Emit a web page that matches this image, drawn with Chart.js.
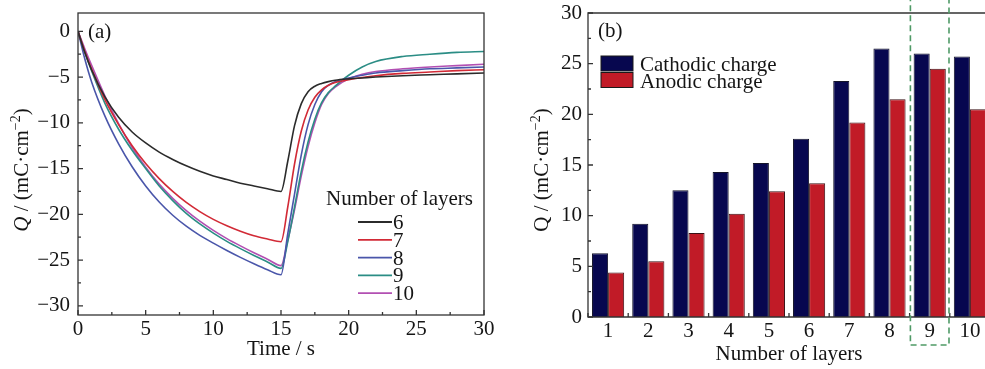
<!DOCTYPE html>
<html>
<head>
<meta charset="utf-8">
<script src="https://cdn.jsdelivr.net/npm/chart.js@4"></script>
<style>
  html, body { margin:0; padding:0; background:#fff; overflow:hidden; width:985px; height:369px; }
  #wa { position:absolute; left:0; top:0; width:495px; height:369px; }
  #wb { position:absolute; left:495px; top:0; width:505px; height:369px; }
</style>
</head>
<body>
<div id="wa"><canvas id="ca" width="495" height="369"></canvas></div>
<div id="wb"><canvas id="cb" width="505" height="369"></canvas></div>
<script>
// ---------- Data: panel (a) ----------
const time = [0,0.5,1,2,3,4,5,6,7,8,9,10,11,12,13,14,15,15.5,16,16.5,17,17.5,18,18.5,19,20,21,22,24,26,28,30];
const layer6  = [0,-2.3,-4.2,-7.2,-9.4,-11.0,-12.2,-13.2,-14.0,-14.7,-15.3,-15.8,-16.2,-16.6,-16.9,-17.2,-17.5,-14.2,-10.3,-7.9,-6.6,-6.0,-5.7,-5.5,-5.35,-5.2,-5.1,-5.0,-4.85,-4.75,-4.65,-4.55];
const layer7  = [0,-2.2,-4.1,-7.5,-10.2,-12.5,-14.45,-16.1,-17.5,-18.7,-19.7,-20.55,-21.25,-21.85,-22.35,-22.7,-23.0,-19.2,-14.5,-10.9,-8.6,-7.2,-6.4,-5.9,-5.6,-5.3,-5.05,-4.85,-4.6,-4.45,-4.3,-4.2];
const layer8  = [0,-3.0,-5.5,-9.3,-12.3,-14.8,-16.9,-18.65,-20.1,-21.3,-22.3,-23.15,-23.95,-24.7,-25.4,-26.05,-26.6,-22.1,-17.8,-13.5,-10.2,-8.0,-6.6,-5.9,-5.5,-5.1,-4.8,-4.55,-4.3,-4.1,-4.0,-3.9];
const layer9  = [0,-2.3,-4.3,-7.9,-10.7,-13.0,-15.0,-16.9,-18.5,-19.9,-21.05,-22.05,-22.95,-23.75,-24.5,-25.2,-25.9,-23.0,-19.2,-15.3,-12.1,-9.6,-7.8,-6.7,-6.0,-4.8,-3.9,-3.3,-2.75,-2.5,-2.3,-2.2];
const layer10 = [0,-1.9,-3.7,-7.1,-10.1,-12.7,-14.85,-16.7,-18.25,-19.6,-20.75,-21.75,-22.65,-23.45,-24.2,-24.9,-25.6,-22.8,-19.5,-15.8,-12.6,-10.0,-8.0,-6.8,-6.1,-5.2,-4.7,-4.4,-4.1,-3.9,-3.75,-3.6];
const layerLabels = ['6','7','8','9','10'];

// ---------- Data: panel (b) ----------
const layerCategories = ['1','2','3','4','5','6','7','8','9','10'];
const cathodicCharge = [6.3, 9.2, 12.5, 14.3, 15.2, 17.6, 23.3, 26.5, 26.0, 25.7];
const anodicCharge   = [4.4, 5.5, 8.3, 10.2, 12.4, 13.2, 19.2, 21.5, 24.5, 20.5];
const highlightedCategory = '9';

// ---------- Styles ----------
const FAM = '"Liberation Serif", "Times New Roman", serif';
const F21 = '21px ' + FAM;
const TXT = '#151515';
const AX = '#333333';
const lineColors = ['#2b2b2b', '#d22a36', '#4a56aa', '#2b8d85', '#b24fb2'];
const seriesA = [layer6, layer7, layer8, layer9, layer10];

Chart.defaults.font.family = FAM;
Chart.defaults.font.size = 21;
Chart.defaults.color = TXT;

function minus(v){ return v < 0 ? '\u2212' + Math.abs(v) : String(v); }
function noPad(s){ s.paddingTop = 0; s.paddingBottom = 0; s.paddingLeft = 0; s.paddingRight = 0; }

function drawQTitle(ctx, bx, cy, italic){
  const parts = [
    {t:'Q', f:(italic ? 'italic ' : '') + F21, dy:0},
    {t:' / (mC\u00B7cm', f:F21, dy:0},
    {t:'\u22122', f:'14px ' + FAM, dy:-8},
    {t:')', f:F21, dy:0}
  ];
  ctx.save();
  ctx.translate(bx, cy);
  ctx.rotate(-Math.PI/2);
  ctx.fillStyle = TXT;
  ctx.textBaseline = 'alphabetic';
  let w = 0;
  parts.forEach(p => { ctx.font = p.f; p.w = ctx.measureText(p.t).width; w += p.w; });
  let x = -w/2;
  parts.forEach(p => { ctx.font = p.f; ctx.fillText(p.t, x, p.dy); x += p.w; });
  ctx.restore();
}

// ---------- Panel (a) ----------
const plugA = {
  id:'plugA',
  afterDraw(chart){
    const {ctx, chartArea:a, scales:{x, y}} = chart;
    ctx.save();
    ctx.strokeStyle = AX; ctx.lineWidth = 1.3;
    ctx.strokeRect(a.left, a.top, a.right - a.left, a.bottom - a.top);
    ctx.beginPath();
    for (let v = 0; v <= 30; v += 2.5){
      const px = x.getPixelForValue(v), L = (v % 5 === 0) ? 5 : 3;
      ctx.moveTo(px, a.bottom); ctx.lineTo(px, a.bottom - L);
    }
    for (let v = -30; v <= 0; v += 2.5){
      const py = y.getPixelForValue(v), L = (v % 5 === 0) ? 5 : 3;
      ctx.moveTo(a.left, py); ctx.lineTo(a.left + L, py);
    }
    ctx.stroke();
    ctx.fillStyle = TXT; ctx.font = F21; ctx.textBaseline = 'alphabetic'; ctx.textAlign = 'left';
    ctx.fillText('(a)', a.left + 10, a.top + 25);
    ctx.textAlign = 'center';
    ctx.fillText('Time / s', (a.left + a.right)/2, 355);
    ctx.textAlign = 'left';
    const lx = a.right - 158;
    ctx.fillText('Number of layers', lx, 205);
    chart.data.datasets.forEach((ds, i) => {
      const yy = 222 + i * 17.8;
      ctx.strokeStyle = ds.borderColor; ctx.lineWidth = 1.8;
      ctx.beginPath(); ctx.moveTo(lx + 32, yy); ctx.lineTo(lx + 66, yy); ctx.stroke();
      ctx.fillText(ds.label, lx + 67, yy + 7);
    });
    ctx.restore();
    drawQTitle(ctx, 28, 170, true);
  }
};

new Chart(document.getElementById('ca'), {
  type:'line',
  data:{
    datasets: seriesA.map((s, i) => ({
      label: layerLabels[i],
      data: time.map((t, k) => ({x:t, y:s[k]})),
      borderColor: lineColors[i],
      borderWidth: 1.6,
      pointRadius: 0,
      fill: false,
      cubicInterpolationMode: 'monotone'
    }))
  },
  options:{
    responsive:false, animation:false, devicePixelRatio:1,
    layout:{ padding:{left:0, top:13, right:11, bottom:0} },
    plugins:{ legend:{display:false}, tooltip:{enabled:false} },
    scales:{
      x:{ type:'linear', min:0, max:30,
          grid:{display:false, drawTicks:false}, border:{display:false},
          ticks:{stepSize:5, padding:2, autoSkip:false, maxRotation:0, color:TXT, font:{size:21}},
          afterFit(s){ s.height = 54; noPad(s); } },
      y:{ type:'linear', min:-31, max:2,
          grid:{display:false, drawTicks:false}, border:{display:false},
          ticks:{stepSize:5, includeBounds:false, padding:8, color:TXT, font:{size:21},
                 callback:(v) => (v % 5 === 0 ? minus(v) : '')},
          afterFit(s){ s.width = 78; noPad(s); } }
    }
  },
  plugins:[plugA]
});

// ---------- Panel (b) ----------
const plugB = {
  id:'plugB',
  afterDraw(chart){
    const {ctx, chartArea:a, scales:{x, y}} = chart;
    ctx.save();
    ctx.strokeStyle = AX; ctx.lineWidth = 1.3;
    ctx.beginPath();
    ctx.moveTo(a.right, a.top); ctx.lineTo(a.left, a.top); ctx.lineTo(a.left, a.bottom); ctx.lineTo(a.right, a.bottom);
    ctx.stroke();
    const catW = x.getPixelForValue(1) - x.getPixelForValue(0);
    ctx.beginPath();
    for (let i = 0; i <= layerCategories.length; i++){
      const px = x.getPixelForValue(i) - catW/2;
      ctx.moveTo(px, a.bottom); ctx.lineTo(px, a.bottom - 4);
    }
    for (let v = 0; v <= 30; v += 2.5){
      const py = y.getPixelForValue(v), L = (v % 5 === 0) ? 5 : 3;
      ctx.moveTo(a.left, py); ctx.lineTo(a.left + L, py);
    }
    ctx.stroke();
    const hi = layerCategories.indexOf(highlightedCategory);
    const cx = x.getPixelForValue(hi);
    ctx.strokeStyle = '#4f9a66'; ctx.lineWidth = 1.6; ctx.setLineDash([6, 4]);
    ctx.strokeRect(cx - catW*0.48, -4, catW*0.96, a.bottom + 32);
    ctx.setLineDash([]);
    ctx.fillStyle = TXT; ctx.font = F21; ctx.textBaseline = 'alphabetic'; ctx.textAlign = 'left';
    ctx.fillText('(b)', a.left + 10, a.top + 24);
    chart.data.datasets.forEach((ds, i) => {
      const by = 56 + i * 16.5;
      ctx.fillStyle = ds.backgroundColor;
      ctx.fillRect(a.left + 13, by, 32, 15);
      ctx.strokeStyle = '#1a1a1a'; ctx.lineWidth = 1;
      ctx.strokeRect(a.left + 13, by, 32, 15);
      ctx.fillStyle = TXT;
      ctx.fillText(ds.label, a.left + 52, by + 15);
    });
    ctx.textAlign = 'center';
    ctx.fillText('Number of layers', (a.left + a.right)/2, 360);
    ctx.restore();
    drawQTitle(ctx, 53, 170, false);
  }
};

new Chart(document.getElementById('cb'), {
  type:'bar',
  data:{
    labels: layerCategories,
    datasets:[
      {label:'Cathodic charge', data:cathodicCharge, backgroundColor:'#07074f', borderColor:'#15152a', borderWidth:1},
      {label:'Anodic charge', data:anodicCharge, backgroundColor:'#c11b27', borderColor:'#3a1015', borderWidth:1}
    ]
  },
  options:{
    responsive:false, animation:false, devicePixelRatio:1,
    layout:{ padding:{left:0, top:13, right:10, bottom:0} },
    datasets:{ bar:{ categoryPercentage:0.8, barPercentage:1.0 } },
    plugins:{ legend:{display:false}, tooltip:{enabled:false} },
    scales:{
      x:{ grid:{display:false, drawTicks:false}, border:{display:false},
          ticks:{padding:2, autoSkip:false, maxRotation:0, color:TXT, font:{size:21}},
          afterFit(s){ s.height = 52; noPad(s); } },
      y:{ min:0, max:30,
          grid:{display:false, drawTicks:false}, border:{display:false},
          ticks:{stepSize:5, padding:6, color:TXT, font:{size:21}},
          afterFit(s){ s.width = 93; noPad(s); } }
    }
  },
  plugins:[plugB]
});
</script>
</body>
</html>
